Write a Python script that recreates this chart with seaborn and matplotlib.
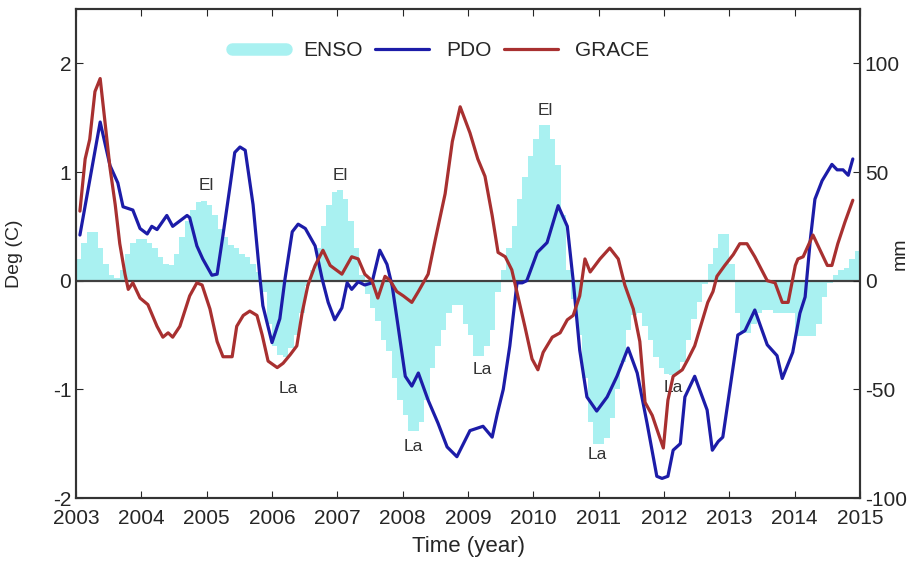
import numpy as np
import matplotlib
matplotlib.use("Agg")
import matplotlib.pyplot as plt
from matplotlib.lines import Line2D
import seaborn as sns

# ENSO index, monthly Jan 2003 .. Dec 2014 (deg C)
enso = [
    0.20, 0.35, 0.45, 0.45, 0.30, 0.15, 0.05, 0.02, 0.10, 0.25, 0.35, 0.38,   # 2003
    0.38, 0.35, 0.30, 0.22, 0.15, 0.14, 0.25, 0.40, 0.55, 0.65, 0.72, 0.73,   # 2004
    0.70, 0.60, 0.48, 0.40, 0.33, 0.30, 0.25, 0.22, 0.15, 0.08, -0.10, -0.40, # 2005
    -0.60, -0.68, -0.70, -0.62, -0.50, -0.30, -0.05, 0.10, 0.30, 0.50, 0.70, 0.82,  # 2006
    0.83, 0.75, 0.55, 0.30, 0.05, -0.12, -0.25, -0.37, -0.55, -0.65, -0.90, -1.10,  # 2007
    -1.24, -1.38, -1.38, -1.30, -1.10, -0.80, -0.60, -0.45, -0.30, -0.22, -0.22, -0.40,  # 2008
    -0.50, -0.69, -0.69, -0.60, -0.45, -0.10, 0.10, 0.30, 0.50, 0.75, 0.95, 1.15,  # 2009
    1.30, 1.43, 1.43, 1.30, 1.06, 0.60, 0.10, -0.17, -0.50, -0.90, -1.30, -1.50,  # 2010
    -1.50, -1.45, -1.26, -1.00, -0.75, -0.45, -0.32, -0.30, -0.42, -0.55, -0.70, -0.80,  # 2011
    -0.86, -0.87, -0.85, -0.75, -0.55, -0.35, -0.20, -0.03, 0.15, 0.30, 0.43, 0.43,  # 2012
    0.15, -0.30, -0.48, -0.48, -0.40, -0.30, -0.27, -0.27, -0.30, -0.30, -0.30, -0.30,  # 2013
    -0.51, -0.51, -0.51, -0.51, -0.40, -0.15, -0.02, 0.05, 0.10, 0.12, 0.20, 0.27,  # 2014
]

# PDO index (deg C)
pdo_t = [2003.06, 2003.37, 2003.52, 2003.64, 2003.72, 2003.87, 2003.98, 2004.09, 2004.16,
         2004.24, 2004.39, 2004.48, 2004.70, 2004.74, 2004.85, 2004.94, 2005.08, 2005.16,
         2005.25, 2005.36, 2005.43, 2005.51, 2005.59, 2005.71, 2005.82, 2005.86, 2006.00,
         2006.12, 2006.20, 2006.31, 2006.40, 2006.51, 2006.66, 2006.77, 2006.86, 2006.96,
         2007.07, 2007.15, 2007.22, 2007.32, 2007.42, 2007.53, 2007.65, 2007.76, 2007.84,
         2007.93, 2008.04, 2008.14, 2008.24, 2008.39, 2008.54, 2008.68, 2008.83, 2009.03,
         2009.23, 2009.37, 2009.45, 2009.54, 2009.64, 2009.75, 2009.83, 2009.90, 2010.06,
         2010.21, 2010.38, 2010.52, 2010.61, 2010.71, 2010.82, 2010.97, 2011.13, 2011.28,
         2011.45, 2011.59, 2011.74, 2011.89, 2011.97, 2012.06, 2012.14, 2012.25, 2012.32,
         2012.47, 2012.66, 2012.74, 2012.83, 2012.90, 2013.13, 2013.24, 2013.39, 2013.58,
         2013.73, 2013.81, 2013.97, 2014.08, 2014.16, 2014.24, 2014.31, 2014.42, 2014.57,
         2014.65, 2014.74, 2014.82, 2014.89]
pdo = [0.42, 1.46, 1.06, 0.90, 0.68, 0.65, 0.48, 0.43, 0.50,
       0.47, 0.60, 0.50, 0.60, 0.58, 0.32, 0.20, 0.05, 0.06,
       0.42, 0.88, 1.18, 1.23, 1.20, 0.70, 0.00, -0.23, -0.57,
       -0.35, 0.02, 0.45, 0.52, 0.48, 0.32, 0.01, -0.20, -0.36,
       -0.25, -0.02, -0.08, -0.01, -0.04, -0.02, 0.28, 0.15, -0.05,
       -0.42, -0.88, -0.97, -0.85, -1.10, -1.31, -1.53, -1.62, -1.38,
       -1.34, -1.44, -1.22, -1.00, -0.60, -0.02, -0.02, 0.00, 0.26,
       0.35, 0.69, 0.50, 0.00, -0.64, -1.07, -1.20, -1.07, -0.88,
       -0.62, -0.85, -1.31, -1.80, -1.82, -1.80, -1.56, -1.50, -1.07,
       -0.88, -1.19, -1.56, -1.48, -1.44, -0.50, -0.46, -0.27, -0.59,
       -0.69, -0.90, -0.66, -0.30, -0.15, 0.38, 0.75, 0.92, 1.07,
       1.02, 1.02, 0.97, 1.12]

# GRACE water storage anomaly (mm)
grace_t = [2003.06, 2003.14, 2003.21, 2003.29, 2003.37, 2003.44, 2003.52, 2003.60, 2003.67,
           2003.75, 2003.80, 2003.87, 2003.98, 2004.10, 2004.24, 2004.33, 2004.41, 2004.48,
           2004.59, 2004.74, 2004.85, 2004.93, 2005.05, 2005.16, 2005.25, 2005.39, 2005.46,
           2005.56, 2005.66, 2005.77, 2005.85, 2005.94, 2006.08, 2006.17, 2006.28, 2006.38,
           2006.46, 2006.55, 2006.66, 2006.78, 2006.89, 2007.07, 2007.22, 2007.32, 2007.42,
           2007.53, 2007.62, 2007.73, 2007.81, 2007.91, 2008.01, 2008.14, 2008.24, 2008.39,
           2008.50, 2008.65, 2008.76, 2008.88, 2009.03, 2009.15, 2009.26, 2009.37, 2009.46,
           2009.57, 2009.67, 2009.77, 2009.87, 2009.98, 2010.07, 2010.15, 2010.29, 2010.41,
           2010.52, 2010.61, 2010.71, 2010.79, 2010.87, 2011.02, 2011.17, 2011.30, 2011.40,
           2011.53, 2011.63, 2011.71, 2011.82, 2011.91, 2011.99, 2012.06, 2012.14, 2012.28,
           2012.37, 2012.47, 2012.58, 2012.67, 2012.75, 2012.81, 2012.93, 2013.06, 2013.16,
           2013.27, 2013.39, 2013.58, 2013.70, 2013.81, 2013.90, 2014.01, 2014.05, 2014.13,
           2014.28, 2014.39, 2014.50, 2014.57, 2014.66, 2014.77, 2014.89]
grace = [32, 56, 65, 87, 93, 74, 52, 35, 17,
         3, -4, -1, -8, -11, -21, -26, -24, -26,
         -21, -7, -1, -2, -13, -28, -35, -35, -21,
         -16, -14, -16, -25, -37, -40, -38, -34, -30,
         -15, -2, 7, 14, 7, 3, 11, 10, 3,
         0, -8, 2, 0, -5, -7, -10, -5, 3,
         19, 40, 64, 80, 68, 56, 48, 30, 13,
         11, 5, -8, -21, -36, -41, -33, -26, -24,
         -18, -16, -7, 10, 4, 10, 15, 10, -2,
         -13, -28, -56, -62, -70, -77, -55, -44, -41,
         -36, -30, -19, -10, -5, 2, 7, 12, 17,
         17, 11, 0, -1, -10, -10, 7, 10, 11,
         21, 14, 7, 7, 17, 27, 37]

# El Nino / La Nina labels: (text, year, deg)
events = [("El", 2005.0, 0.88), ("El", 2007.05, 0.97), ("El", 2010.18, 1.57),
          ("La", 2006.25, -0.99), ("La", 2008.17, -1.53), ("La", 2009.22, -0.82),
          ("La", 2010.98, -1.6), ("La", 2012.15, -0.98)]

years = list(range(2003, 2016))

sns.set_style("white")
plt.rcParams['font.family'] = ['Liberation Sans', 'DejaVu Sans']
plt.rcParams['axes.unicode_minus'] = False

enso_col = '#a9f1f1'
pdo_col = '#1c1ca8'
grace_col = '#a83030'

fig = plt.figure(figsize=(9.14, 5.62), dpi=100)
ax = fig.add_axes([76 / 914, 1 - 498 / 562, 784 / 914, 489 / 562])

# ENSO as monthly steps
t_edges = 2003 + np.arange(len(enso) + 1) / 12
ax.fill_between(t_edges, np.append(enso, enso[-1]), 0, step='post',
                color=enso_col, linewidth=0, zorder=1)
ax.axhline(0, color='#404040', lw=1.6, zorder=2)

sns.lineplot(x=pdo_t, y=pdo, ax=ax, color=pdo_col, lw=2.3, sort=False, zorder=3)

for txt, x, y in events:
    ax.text(x, y, txt, ha='center', va='center', fontsize=12.5, color='#333333', zorder=4)

ax.set_xlim(2003, 2015)
ax.set_ylim(-2, 2.5)
ax.set_xticks(years)
ax.set_yticks([-2, -1, 0, 1, 2])
ax.set_xlabel('Time (year)', fontsize=16, labelpad=6)
ax.set_ylabel('Deg (C)', fontsize=14)
ax.yaxis.set_label_coords(-0.068, 0.5)
ax.tick_params(direction='in', labelsize=15, length=5, top=True, bottom=True, left=True)
ax.tick_params(axis='x', pad=8)

ax2 = ax.twinx()
sns.lineplot(x=grace_t, y=grace, ax=ax2, color=grace_col, lw=2.3, sort=False)
ax2.set_ylim(-100, 125)
ax2.set_yticks([-100, -50, 0, 50, 100])
ax2.set_ylabel('mm', fontsize=14)
ax2.yaxis.set_label_coords(1.041, 0.5)
ax2.tick_params(direction='in', labelsize=15, length=5)

for a in (ax, ax2):
    for s in a.spines.values():
        s.set_color('#333333')
        s.set_linewidth(1.5)

handles = [Line2D([], [], color=enso_col, lw=9, solid_capstyle='round'),
           Line2D([], [], color=pdo_col, lw=2.3),
           Line2D([], [], color=grace_col, lw=2.3)]
ax2.legend(handles, ['ENSO', 'PDO', 'GRACE'], loc='center', bbox_to_anchor=(0.465, 0.915),
           ncol=3, frameon=False, fontsize=15, handlelength=2.6, columnspacing=0.6,
           handletextpad=0.8)

fig.savefig('out.png', dpi=100)
